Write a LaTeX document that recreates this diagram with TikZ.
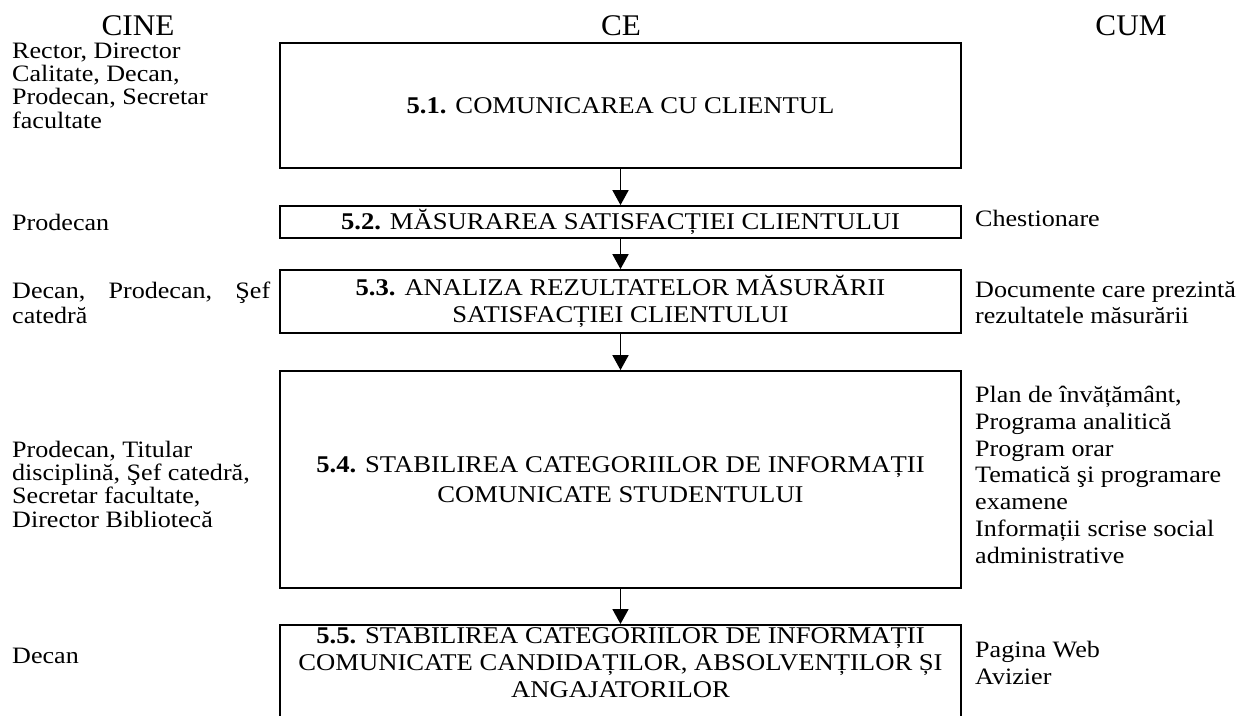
\documentclass[tikz,border=0pt]{standalone}
\usepackage{fontspec}
\setmainfont{Liberation Serif}[FakeStretch=1.11]
\newfontfamily\hdrfont{Liberation Serif}[FakeStretch=1.04]
\usetikzlibrary{arrows.meta}
\newcommand\bodyfs[1]{\fontsize{23.5}{#1}\selectfont}
\newcommand\boxfs[1]{\fontsize{24}{#1}\selectfont}
\begin{document}
\begin{tikzpicture}[x=1pt,y=-1pt,
  hdr/.style={font=\hdrfont\fontsize{30}{34}\selectfont, inner sep=0pt, anchor=base},
  box/.style={draw, line width=1.8pt, inner sep=0pt, align=center, minimum width=681pt},
  side/.style={inner sep=0pt, align=left, anchor=base west},
  arr/.style={line width=1.8pt, -{Triangle[length=15pt,width=16pt]}}]
\useasboundingbox (0,0) rectangle (1244,715);
\clip (0,0) rectangle (1244,715);
% headers
\node[hdr] (hcine) at (138,35) {CINE};
\node[hdr] (hce) at (621,35) {CE};
\node[hdr] (hcum) at (1131,35) {CUM};
% boxes
\node[box, minimum height=125pt, font=\boxfs{27}] (b1) at (620.5,105.5) {\textbf{5.1.} COMUNICAREA CU CLIENTUL};
\node[box, minimum height=32pt, font=\boxfs{27}] (b2) at (620.5,222) {\textbf{5.2.} MĂSURAREA SATISFACȚIEI CLIENTULUI};
\node[box, minimum height=63pt, font=\boxfs{27}] (b3) at (620.5,301.5) {\textbf{5.3.} ANALIZA REZULTATELOR MĂSURĂRII\\SATISFACȚIEI CLIENTULUI};
\node[box, minimum height=217pt, font=\boxfs{30}] (b4) at (620.5,479.5) {\textbf{5.4.} STABILIREA CATEGORIILOR DE INFORMAȚII\\COMUNICATE STUDENTULUI};
\node[box, minimum height=130pt, anchor=north] (b5) at (620.5,624) {};
\node[inner sep=0pt, align=center, anchor=base, font=\boxfs{27}] (t5) at (620.5,697) {\textbf{5.5.} STABILIREA CATEGORIILOR DE INFORMAȚII\\COMUNICATE CANDIDAȚILOR, ABSOLVENȚILOR ȘI\\ANGAJATORILOR};
% arrows
\draw[arr] (b1.south) -- (b2.north);
\draw[arr] (b2.south) -- (b3.north);
\draw[arr] (b3.south) -- (b4.north);
\draw[arr] (b4.south) -- (b5.north);
% left column (CINE); base anchor = baseline of the last line
\node[side, font=\bodyfs{23.3}] (l1) at (12,128) {Rector, Director\\Calitate, Decan,\\Prodecan, Secretar\\facultate};
\node[side, font=\bodyfs{23.3}] (l2) at (12,230) {Prodecan};
\node[side, font=\bodyfs{25}] (l3) at (12,323) {\makebox[258pt][s]{Decan, Prodecan, Şef}\\catedră};
\node[side, font=\bodyfs{23.3}] (l4) at (12,527) {Prodecan, Titular\\disciplină, Şef catedră,\\Secretar facultate,\\Director Bibliotecă};
\node[side, font=\bodyfs{23.3}] (l5) at (12,663) {Decan};
% right column (CUM)
\node[side, font=\bodyfs{26.7}] (r2) at (975,226) {Chestionare};
\node[side, font=\bodyfs{26}] (r3) at (975,323) {Documente care prezintă\\rezultatele măsurării};
\node[side, font=\bodyfs{26.7}] (r4) at (975,563) {Plan de învățământ,\\Programa analitică\\Program orar\\Tematică şi programare\\examene\\Informații scrise social\\administrative};
\node[side, font=\bodyfs{27}] (r5) at (975,684) {Pagina Web\\Avizier};
\end{tikzpicture}
\end{document}
